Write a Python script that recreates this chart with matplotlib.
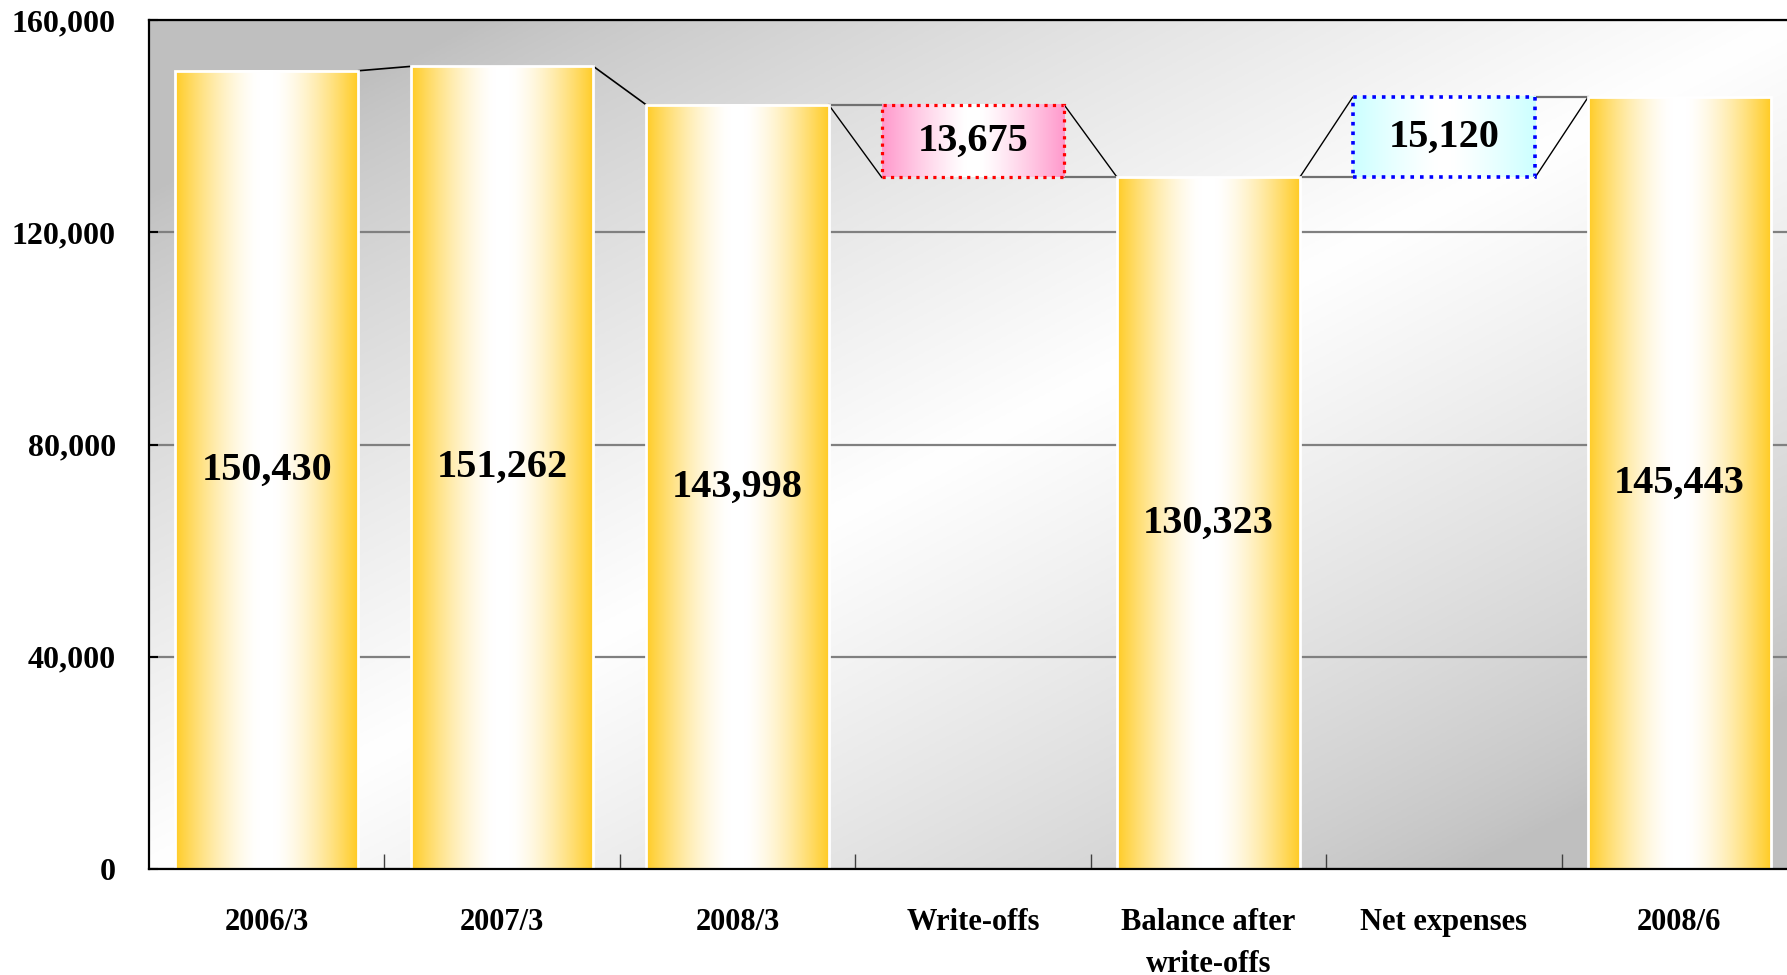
import numpy as np
import matplotlib.pyplot as plt

plt.rcParams['font.family'] = ['Liberation Serif', 'DejaVu Serif']
plt.rcParams['font.weight'] = 'bold'

# data
categories = ['2006/3', '2007/3', '2008/3', 'Write-offs', 'Balance after\nwrite-offs', 'Net expenses', '2008/6']
values = [150430, 151262, 143998, 13675, 130323, 15120, 145443]
bottoms = [0, 0, 0, 130323, 0, 130323, 0]
kinds = ['bar', 'bar', 'bar', 'down', 'bar', 'up', 'bar']
yticks = [0, 40000, 80000, 120000, 160000]

W, H = 1787, 975
fig = plt.figure(figsize=(W / 100, H / 100), dpi=100)
ax = fig.add_axes([149 / W, 106 / H, 1648 / W, 849 / H])

# background gradient (grey corners top-left and bottom-right, white across the diagonal)
n = 300
u = np.linspace(0, 1, n)
uu, vv = np.meshgrid(u, u)  # vv=0 top row
t = (uu + vv) / 2
g = 0.75 + 0.25 * np.clip(1 - np.abs(2 * t - 1) * 1.25, 0, 1) ** 0.8
bg = np.dstack([g, g, g])
ax.imshow(bg, extent=[0, 1, 0, 1], transform=ax.transAxes, aspect='auto', zorder=0)

x = np.arange(len(categories))
bw = 0.775
bars = ax.bar(x, values, bw, bottom=bottoms, facecolor='none', edgecolor='white', linewidth=2, zorder=4)


def hgrad(edge, power=1.5, n=200):
    s = np.abs(np.linspace(-1, 1, n))
    f = np.clip((s - 0.08) / 0.92, 0, 1) ** power
    edge = np.array(edge) / 255.0
    row = (1 - f)[:, None] * np.ones(3) + f[:, None] * edge
    return row[None, :, :]


gold = hgrad((255, 204, 38))
pink = hgrad((255, 153, 204), 1.2)
cyan = hgrad((204, 255, 255), 1.2)

for b, k, v in zip(bars, kinds, values):
    x0, y0 = b.get_x(), b.get_y()
    x1, y1 = x0 + b.get_width(), y0 + b.get_height()
    img = {'bar': gold, 'down': pink, 'up': cyan}[k]
    ax.imshow(img, extent=[x0, x1, y0, y1], aspect='auto', zorder=3)
    if k == 'down':
        b.set_edgecolor('#ff0000')
        b.set_linestyle(':')
        b.set_linewidth(2.3)
    elif k == 'up':
        b.set_edgecolor('#0000ff')
        b.set_linestyle(':')
        b.set_linewidth(2.6)
    ax.text(b.get_x() + b.get_width() / 2, y0 + b.get_height() / 2, f'{v:,}',
            ha='center', va='center', fontsize=29, fontweight='bold', zorder=6)

# connector lines
hw = bw / 2
tops = [b + v for b, v in zip(bottoms, values)]
for i in range(len(values) - 1):
    xa, xb = x[i] + hw, x[i + 1] - hw
    if kinds[i + 1] == 'down':
        ax.plot([xa, xb], [tops[i], tops[i + 1]], color='#707070', lw=1.6, zorder=2)
        ax.plot([xa, xb], [tops[i], bottoms[i + 1]], color='black', lw=1, zorder=2)
    elif kinds[i] == 'down':
        ax.plot([xa, xb], [tops[i], tops[i + 1]], color='black', lw=1, zorder=2)
        ax.plot([xa, xb], [bottoms[i], tops[i + 1]], color='#707070', lw=1.6, zorder=2)
    elif kinds[i + 1] == 'up':
        ax.plot([xa, xb], [tops[i], bottoms[i + 1]], color='#707070', lw=1.6, zorder=2)
        ax.plot([xa, xb], [tops[i], tops[i + 1]], color='black', lw=1, zorder=2)
    elif kinds[i] == 'up':
        ax.plot([xa, xb], [tops[i], tops[i + 1]], color='#707070', lw=1.6, zorder=2)
        ax.plot([xa, xb], [bottoms[i], tops[i + 1]], color='black', lw=1, zorder=2)
    else:
        ax.plot([xa, xb], [tops[i], tops[i + 1]], color='black', lw=1.2, zorder=2)

ax.set_xlim(-0.5, len(categories) - 0.5)
ax.set_ylim(0, 160000)
ax.set_yticks(yticks)
ax.set_yticklabels([f'{v:,}' for v in yticks], fontsize=23, fontweight='bold')
ax.set_xticks(x)
ax.set_xticklabels(categories, fontsize=22, fontweight='bold', linespacing=1.6)
ax.set_xticks(x[:-1] + 0.5, minor=True)
ax.tick_params(axis='x', which='major', length=0, pad=28)
ax.tick_params(axis='x', which='minor', direction='in', length=11, width=1, color='#404040')
ax.tick_params(axis='y', direction='in', length=6.5, width=1.5, pad=24)
ax.yaxis.grid(True, color='#808080', lw=1.6, zorder=1)
ax.set_axisbelow(True)
for s in ax.spines.values():
    s.set_linewidth(1.6)
    s.set_zorder(5)

fig.savefig('out.png', dpi=100)
